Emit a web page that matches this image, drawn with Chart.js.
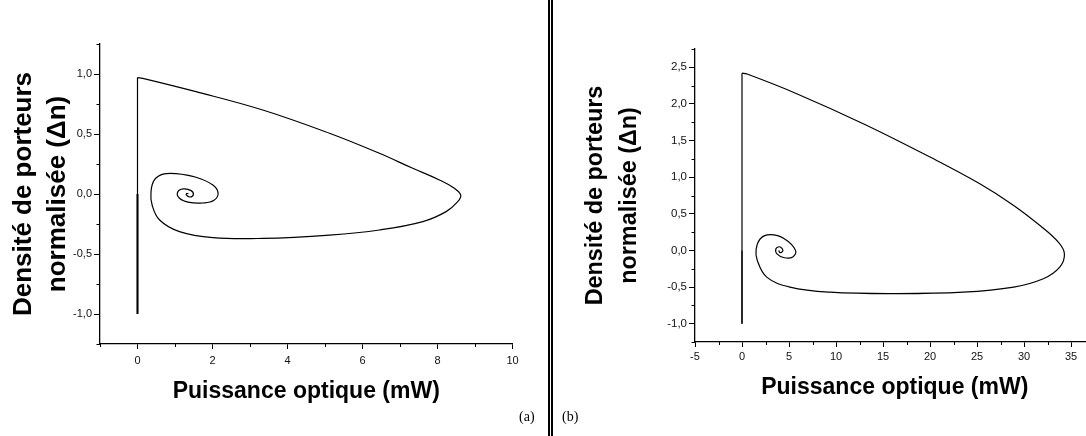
<!DOCTYPE html>
<html>
<head>
<meta charset="utf-8">
<script src="https://cdn.jsdelivr.net/npm/chart.js@4.4.1/dist/chart.umd.min.js"></script>
<style>
  html, body { margin: 0; padding: 0; background: #fff; }
  body { width: 1086px; height: 436px; position: relative; overflow: hidden; }
  canvas { position: absolute; top: 0; }
  #chartA { left: 0; }
  #chartB { left: 555px; }
  .sep {
    position: absolute; left: 548px; top: 0; width: 1px; height: 436px;
    border-left: 2px solid #000; border-right: 2px solid #000;
  }
  .tag {
    position: absolute; top: 409px; font: 14px "Liberation Serif", "DejaVu Serif", serif; color: #000;
  }
</style>
</head>
<body>
<canvas id="chartA" width="545" height="436"></canvas>
<canvas id="chartB" width="545" height="436"></canvas>
<div class="sep"></div>
<div class="tag" style="left:519px">(a)</div>
<div class="tag" style="left:562px">(b)</div>
<script>
// (a) start-up: thick stub below zero, the rise at P = 0, then the relaxation loop
const stubAx = [0, 0];
const stubAy = [-1.0, 0.0];
const riseAx = [0, 0];
const riseAy = [-1.0, 0.97];
const loopAx = [0, 0.14, 1.56, 3.34, 5.12, 6.45, 7.34, 8.05, 8.45, 8.62, 8.54, 8.23, 7.61, 6.45, 5.12, 3.34, 2.01,
  1.12, 0.59, 0.39, 0.36, 0.45, 0.68, 1.03, 1.56, 2.01, 2.15, 2.03, 1.75, 1.38, 1.12, 1.07, 1.22, 1.43, 1.49, 1.40,
  1.30, 1.32, 1.36];
const loopAy = [0.97, 0.964, 0.853, 0.70, 0.506, 0.339, 0.214, 0.117, 0.047, -0.01, -0.064, -0.147, -0.23, -0.30,
  -0.342, -0.37, -0.364, -0.314, -0.217, -0.092, 0.019, 0.117, 0.165, 0.17, 0.14, 0.075, 0.005, -0.055, -0.075,
  -0.07, -0.035, 0.015, 0.042, 0.028, -0.005, -0.025, -0.008, 0.006, 0.0];
const xTicksA = [0, 2, 4, 6, 8, 10];
const yTicksA = [-1.0, -0.5, 0.0, 0.5, 1.0];

// (b)
const stubBx = [0, 0];
const stubBy = [-1.0, 0.0];
const riseBx = [0, 0];
const riseBy = [-1.0, 2.42];
const loopBx = [0, 0.5, 5.82, 12.9, 20.0, 25.3, 28.9, 31.7, 33.65, 34.3, 33.8, 32.05, 28.9, 23.5, 16.5, 9.36, 5.1,
  2.63, 1.63, 1.5, 1.95, 3.0, 4.5, 5.7, 5.4, 4.5, 3.75, 3.6, 4.0, 4.35, 4.05, 3.9];
const loopBy = [2.42, 2.41, 2.14, 1.73, 1.275, 0.91, 0.615, 0.34, 0.113, -0.045, -0.228, -0.387, -0.50, -0.57, -0.59,
  -0.57, -0.50, -0.364, -0.137, 0.01, 0.16, 0.215, 0.16, 0.0, -0.09, -0.10, -0.05, 0.02, 0.05, 0.0, -0.03, 0.0];
const xTicksB = [-5, 0, 5, 10, 15, 20, 25, 30, 35];
const yTicksB = [-1.0, -0.5, 0.0, 0.5, 1.0, 1.5, 2.0, 2.5];

const yTitle = ["Densité de porteurs", "normalisée (\u0394n)"];
const xTitle = "Puissance optique (mW)";

const pts = (xs, ys) => xs.map((x, i) => ({ x: x, y: ys[i] }));
const comma = v => v.toFixed(1).replace(".", ",");

// small in-between ticks, like the Origin axes
const minorTicks = {
  id: "minorTicks",
  afterDraw(chart, args, opts) {
    const ctx = chart.ctx;
    ctx.save();
    ctx.strokeStyle = "#000";
    ctx.lineWidth = 1;
    ctx.beginPath();
    ["x", "y"].forEach(id => {
      const s = chart.scales[id];
      const step = opts[id];
      const n0 = Math.ceil(s.min / step - 1e-9);
      const n1 = Math.floor(s.max / step + 1e-9);
      for (let n = n0; n <= n1; n++) {
        if (n % 2 === 0) continue;
        const p = Math.round(s.getPixelForValue(n * step)) + 0.5;
        if (id === "x") { ctx.moveTo(p, s.top); ctx.lineTo(p, s.top + 3); }
        else { ctx.moveTo(s.right, p); ctx.lineTo(s.right - 3.5, p); }
      }
    });
    ctx.stroke();
    ctx.restore();
  }
};

const makeChart = (id, cfg) => {
  const line = (data, w, t) => ({
    data: data, showLine: true, borderColor: "#000", borderWidth: w,
    pointRadius: 0, tension: t, fill: false
  });
  return new Chart(document.getElementById(id), {
    type: "scatter",
    data: {
      datasets: [
        line(pts(cfg.stubX, cfg.stubY), cfg.stubWidth, 0),
        line(pts(cfg.riseX, cfg.riseY), 1.2, 0),
        line(pts(cfg.loopX, cfg.loopY), 1.2, 0.4)
      ]
    },
    options: {
      responsive: false,
      animation: false,
      layout: { padding: cfg.padding },
      plugins: {
        legend: { display: false },
        tooltip: { enabled: false },
        minorTicks: { x: cfg.xStep / 2, y: 0.25 }
      },
      scales: {
        x: {
          type: "linear", min: cfg.xMin, max: cfg.xMax,
          afterBuildTicks: s => { s.ticks = cfg.xTicks.map(v => ({ value: v })); },
          afterFit: s => { s.height = cfg.xBox; },
          border: { display: true, color: "#000", width: 1.3 },
          grid: { drawOnChartArea: false, drawTicks: true, tickLength: 5, tickColor: "#000" },
          ticks: { autoSkip: false, maxRotation: 0, padding: cfg.xPad, color: "#111",
            font: { family: "Liberation Sans", size: 11 }, callback: v => String(v) },
          title: {
            display: true, text: xTitle, color: "#000",
            font: { family: "Liberation Sans", weight: "bold", size: 23, lineHeight: 1.2 },
            padding: { top: 0, bottom: cfg.xTitlePad }
          }
        },
        y: {
          type: "linear", min: cfg.yMin, max: cfg.yMax,
          afterBuildTicks: s => { s.ticks = cfg.yTicks.map(v => ({ value: v })); },
          afterFit: s => { s.width = cfg.yBox; },
          border: { display: true, color: "#000", width: 1.3 },
          grid: { drawOnChartArea: false, drawTicks: true, tickLength: 6, tickColor: "#000" },
          ticks: { autoSkip: false, padding: 2, color: "#111",
            font: { family: "Liberation Sans", size: cfg.yTickSize }, callback: v => comma(v) },
          title: {
            display: true, text: yTitle, color: "#000",
            font: { family: "Liberation Sans", weight: "bold", size: cfg.yTitleSize, lineHeight: cfg.yTitleLH },
            padding: { top: cfg.yTitlePad, bottom: 0 }
          }
        }
      }
    },
    plugins: [minorTicks]
  });
};

makeChart("chartA", {
  stubX: stubAx, stubY: stubAy, stubWidth: 2, riseX: riseAx, riseY: riseAy, loopX: loopAx, loopY: loopAy,
  xMin: -1, xMax: 10, yMin: -1.25, yMax: 1.25, xStep: 2,
  xTicks: xTicksA, yTicks: yTicksA,
  padding: { left: 0, top: 44, right: 32.5, bottom: 0 },
  xBox: 92, yBox: 100, xPad: 5, xTitlePad: 31, yTickSize: 11,
  yTitleSize: 26, yTitleLH: 1.3, yTitlePad: 7
});

makeChart("chartB", {
  stubX: stubBx, stubY: stubBy, stubWidth: 1.2, riseX: riseBx, riseY: riseBy, loopX: loopBx, loopY: loopBy,
  xMin: -5, xMax: 37.5, yMin: -1.25, yMax: 2.75, xStep: 5,
  xTicks: xTicksB, yTicks: yTicksB,
  padding: { left: 0, top: 49, right: 5.5, bottom: 0 },
  xBox: 94, yBox: 140, xPad: 3, xTitlePad: 35, yTickSize: 11.5,
  yTitleSize: 23.4, yTitleLH: 1.43, yTitlePad: 24
});
</script>
</body>
</html>
